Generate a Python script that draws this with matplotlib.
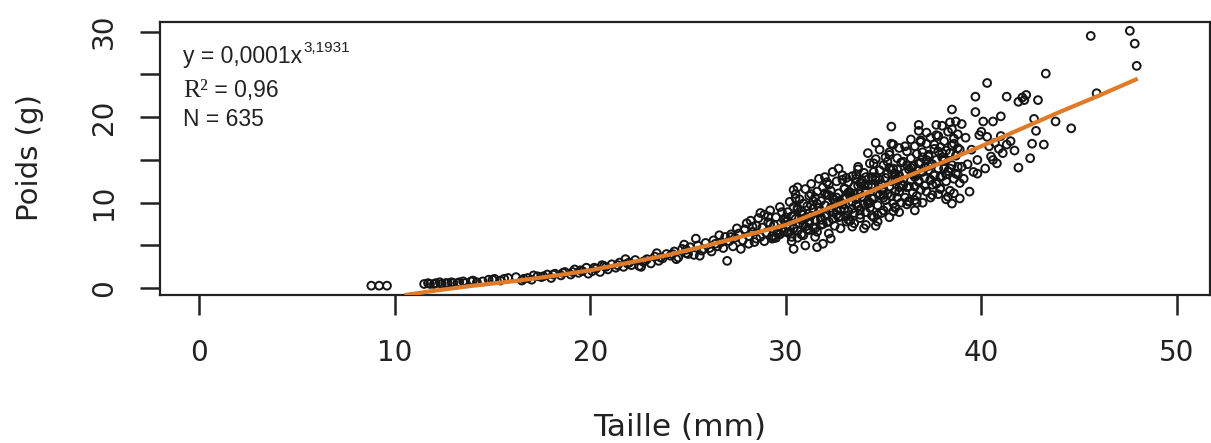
import numpy as np
import matplotlib
matplotlib.use("Agg")
import matplotlib.pyplot as plt

# ---- data (Taille en mm, Poids en g) ----
xa = [8.8, 9.2, 9.6, 11.5, 11.8, 12.1, 12.4, 12.7, 13.0, 13.3,
      13.6, 13.9, 14.2, 14.8, 15.1, 15.4, 15.8]
ya = [0.3, 0.3, 0.3, 0.5, 0.5, 0.6, 0.5, 0.6, 0.6, 0.7,
      0.6, 0.8, 0.7, 1.0, 1.1, 0.9, 1.2]

xb = [16.5, 16.8, 17.0, 17.3, 17.5, 17.8, 18.0, 18.2, 18.5, 18.7,
      19.0, 19.2, 19.4, 19.6, 19.8, 19.9]
yb = [0.9, 1.2, 1.0, 1.4, 1.3, 1.6, 1.2, 1.7, 1.5, 1.9,
      1.6, 2.2, 1.8, 2.0, 2.4, 1.7]

xc = [20.1, 20.3, 20.5, 20.7, 20.9, 21.1, 21.3, 21.5, 21.7, 21.9,
      22.1, 22.3, 22.5, 22.7, 22.9, 23.1, 23.3, 23.5, 23.7, 23.9,
      20.6, 21.8, 22.6, 23.4]
yc = [2.0, 2.3, 1.9, 2.6, 2.2, 2.8, 2.4, 3.0, 2.5, 2.9,
      2.7, 3.3, 2.6, 3.1, 3.4, 2.9, 3.7, 3.2, 3.5, 4.0,
      2.7, 3.4, 2.5, 4.1]

xd = [24.1, 24.3, 24.5, 24.7, 24.9, 25.1, 25.3, 25.5, 25.7, 25.9,
      26.1, 26.3, 26.5, 26.7, 26.9, 24.4, 25.0, 25.6, 26.2, 26.8,
      27.0, 25.4, 26.6, 24.8]
yd = [3.8, 4.3, 3.6, 4.6, 4.1, 4.8, 3.9, 5.0, 4.4, 5.3,
      4.7, 5.6, 4.9, 5.4, 6.0, 3.4, 4.0, 3.8, 4.3, 4.7,
      3.2, 5.8, 6.2, 5.1]

xe = [27.1, 27.2, 27.4, 27.5, 27.6, 27.8, 27.9, 28.0, 28.1, 28.2,
      28.3, 28.4, 28.5, 28.6, 28.7, 28.8, 28.9, 29.0, 29.1, 29.2,
      29.3, 29.4, 29.5, 29.6, 29.7, 29.8, 29.9, 27.3, 27.7, 28.1,
      28.5, 28.9, 29.3, 29.7, 27.9, 28.3, 28.7, 29.1, 29.5, 29.9]
ye = [5.5, 6.3, 5.9, 7.0, 6.4, 5.6, 6.8, 7.6, 6.1, 7.9,
      6.6, 5.4, 7.3, 8.2, 6.0, 7.1, 8.6, 6.5, 7.7, 9.1,
      5.8, 7.4, 8.3, 6.8, 9.5, 7.0, 8.0, 4.9, 4.6, 5.2,
      5.8, 5.5, 6.1, 6.3, 6.9, 7.2, 8.8, 8.4, 5.9, 6.6]

xf = [30.0, 30.1, 30.1, 30.2, 30.2, 30.3, 30.3, 30.4, 30.4, 30.5,
      30.5, 30.6, 30.6, 30.7, 30.7, 30.8, 30.8, 30.9, 30.9, 31.0,
      31.0, 31.1, 31.1, 31.2, 31.2, 31.3, 31.3, 31.4, 31.4, 31.5,
      31.5, 31.6, 31.6, 31.7, 31.7, 31.8, 31.8, 31.9, 31.9, 32.0,
      32.0, 32.1, 32.1, 32.2, 32.2, 32.3, 32.3, 32.4, 32.4, 32.5,
      32.5, 32.6, 32.6, 32.7, 32.7, 32.8, 32.8, 32.9, 32.9, 30.3,
      30.6, 30.9, 31.2, 31.5, 31.8, 32.1, 32.4, 32.7, 30.4, 31.0,
      31.6, 32.2, 32.8, 30.4, 30.6, 31.9, 32.6, 31.3, 32.0, 30.8]
yf = [7.8, 6.5, 8.9, 7.2, 10.1, 6.0, 8.4, 9.5, 7.0, 11.0,
      8.1, 6.7, 9.2, 7.6, 10.4, 8.7, 6.3, 9.9, 7.4, 11.6,
      8.2, 6.9, 9.6, 10.8, 7.9, 8.5, 12.2, 7.1, 9.3, 10.6,
      8.0, 11.3, 6.6, 9.0, 12.8, 8.3, 10.2, 7.5, 11.8, 9.7,
      13.0, 8.6, 10.9, 7.8, 12.1, 9.4, 11.4, 8.9, 13.6, 10.3,
      7.3, 12.5, 9.1, 11.1, 14.0, 10.0, 8.4, 12.7, 9.8, 5.5,
      5.9, 6.2, 6.8, 7.0, 7.4, 7.7, 8.1, 8.3, 4.6, 5.0,
      4.8, 6.4, 7.0, 11.5, 11.8, 5.2, 10.6, 9.7, 11.1, 8.0]

xg = [33.0, 33.0, 33.1, 33.1, 33.2, 33.2, 33.3, 33.3, 33.4, 33.4,
      33.5, 33.5, 33.6, 33.6, 33.7, 33.7, 33.8, 33.8, 33.9, 33.9,
      34.0, 34.0, 34.1, 34.1, 34.2, 34.2, 34.3, 34.3, 34.4, 34.4,
      34.5, 34.5, 34.6, 34.6, 34.7, 34.7, 34.8, 34.8, 34.9, 34.9,
      35.0, 35.0, 35.1, 35.1, 35.2, 35.2, 35.3, 35.3, 35.4, 35.4,
      35.5, 35.5, 35.6, 35.6, 35.7, 35.7, 35.8, 35.8, 35.9, 35.9,
      33.2, 33.5, 33.8, 34.1, 34.4, 34.7, 35.0, 35.3, 35.6, 35.9,
      33.1, 33.6, 34.2, 34.8, 35.4, 33.4, 34.0, 34.6, 35.2, 35.8,
      33.3, 33.9, 34.5, 35.1, 35.7, 34.6, 35.4, 33.7, 34.3, 35.5,
      33.0, 33.8, 34.9, 35.6, 34.1, 35.0, 33.5, 34.4, 35.3, 35.8]
yg = [9.3, 11.7, 8.4, 10.6, 12.4, 9.0, 11.2, 7.9, 13.1, 10.1,
      8.8, 11.9, 10.4, 12.8, 9.6, 14.2, 11.0, 8.6, 12.3, 10.7,
      9.8, 13.5, 11.4, 8.9, 12.0, 10.2, 14.6, 9.4, 11.8, 13.0,
      10.5, 8.3, 12.6, 15.1, 11.1, 9.7, 13.8, 10.9, 12.2, 8.8,
      11.6, 14.4, 10.3, 12.9, 9.5, 13.4, 11.9, 15.6, 10.8, 12.5,
      14.0, 9.9, 12.7, 11.3, 15.2, 10.6, 13.2, 8.9, 12.1, 14.7,
      8.0, 7.6, 8.2, 7.4, 8.5, 7.8, 9.1, 8.3, 9.4, 10.0,
      12.9, 13.3, 15.8, 16.2, 16.9, 7.2, 7.0, 17.0, 14.8, 16.4,
      10.9, 12.6, 13.6, 15.3, 13.9, 7.3, 18.9, 12.0, 10.0, 16.8,
      10.4, 9.2, 11.5, 9.5, 13.0, 10.9, 11.0, 12.1, 14.1, 11.8]

xh = [36.0, 36.0, 36.1, 36.1, 36.2, 36.2, 36.3, 36.3, 36.4, 36.4,
      36.5, 36.5, 36.6, 36.6, 36.7, 36.7, 36.8, 36.8, 36.9, 36.9,
      37.0, 37.0, 37.1, 37.1, 37.2, 37.2, 37.3, 37.3, 37.4, 37.4,
      37.5, 37.5, 37.6, 37.6, 37.7, 37.7, 37.8, 37.8, 37.9, 37.9,
      38.0, 38.0, 38.1, 38.1, 38.2, 38.2, 38.3, 38.3, 38.4, 38.4,
      38.5, 38.5, 38.6, 38.6, 38.7, 38.7, 38.8, 38.8, 38.9, 38.9,
      36.2, 36.6, 37.0, 37.4, 37.8, 38.2, 38.6, 36.4, 37.2, 38.0,
      38.8, 36.8, 37.6, 38.4, 36.6, 36.8, 37.7, 38.5, 38.7, 38.5,
      36.3, 37.1, 37.9, 38.3, 36.9, 37.5, 38.1, 38.9, 36.5, 37.3]
yh = [12.1, 14.8, 10.6, 13.5, 16.0, 11.8, 13.9, 10.1, 15.2, 12.6,
      14.3, 11.2, 16.6, 13.0, 10.8, 15.7, 12.4, 14.6, 11.5, 17.1,
      13.6, 15.9, 12.0, 14.1, 16.9, 11.3, 13.8, 15.4, 12.7, 17.6,
      14.5, 10.9, 16.3, 13.2, 15.0, 12.2, 17.8, 14.0, 16.5, 11.7,
      15.3, 13.1, 17.2, 14.9, 12.5, 16.1, 18.3, 13.7, 15.8, 11.4,
      16.7, 14.4, 12.8, 17.5, 15.5, 13.4, 18.0, 14.2, 16.2, 12.3,
      9.8, 10.3, 10.0, 10.6, 11.0, 10.4, 11.1, 17.4, 18.2, 19.0,
      13.3, 18.4, 16.8, 19.4, 9.1, 19.1, 19.1, 20.9, 19.5, 9.9,
      11.9, 12.9, 13.0, 10.7, 14.7, 12.1, 14.0, 10.5, 13.3, 15.6]

xi = [39.0, 39.1, 39.2, 39.3, 39.4, 39.5, 39.6, 39.7, 39.8, 39.9,
      40.0, 40.1, 40.2, 40.3, 40.4, 40.5, 40.6, 40.7, 40.8, 40.9,
      41.0, 41.1, 41.3, 41.5, 41.7, 41.9, 42.1, 42.3, 42.5, 42.7,
      42.9, 39.7, 40.3, 41.3, 41.9, 42.2, 42.6, 39.8, 40.6, 41.0]
yi = [19.2, 12.8, 17.6, 14.5, 11.3, 16.2, 13.6, 22.4, 15.0, 17.9,
      18.3, 19.5, 14.0, 24.0, 16.6, 15.4, 19.5, 17.0, 14.6, 16.3,
      20.1, 15.8, 22.4, 17.2, 16.1, 21.8, 22.3, 22.6, 15.2, 19.8,
      22.0, 20.6, 17.7, 16.8, 14.1, 22.0, 16.9, 13.4, 15.0, 17.8]

xj = [43.2, 43.3, 44.6, 45.6, 47.6, 47.85, 47.95, 43.8, 42.8, 45.9]
yj = [16.8, 25.1, 18.7, 29.5, 30.1, 28.6, 26.0, 19.5, 18.4, 22.8]

xk = [29.2, 29.6, 30.0, 30.4, 30.8, 31.2, 31.6, 32.0, 32.4, 32.8,
      33.2, 33.6, 34.0, 34.4, 34.8, 35.2, 35.6, 36.0, 36.4, 36.8,
      37.2, 37.6, 38.0, 38.4, 38.8, 29.4, 29.8, 30.2, 30.6, 31.0,
      31.4, 31.8, 32.2, 32.6, 33.0, 33.4, 33.8, 34.2, 34.6, 35.0,
      35.4, 35.8, 36.2, 36.6, 37.0, 37.4, 37.8, 38.2, 38.6, 39.0,
      30.1, 30.9, 31.7, 32.5, 33.3, 34.1, 34.9, 35.7, 36.5, 37.3,
      38.1, 30.5, 31.3, 32.1, 32.9, 33.7, 34.5, 35.3, 36.1, 36.9,
      37.7, 38.5, 31.5, 33.1, 34.7, 36.3, 37.9, 32.3, 35.5, 36.7]
yk = [7.5, 6.4, 8.3, 7.0, 9.0, 7.6, 9.9, 8.4, 10.5, 9.1,
      11.2, 9.8, 12.0, 10.5, 12.7, 11.0, 13.4, 12.0, 14.1, 12.6,
      15.0, 13.2, 15.8, 14.0, 16.4, 5.9, 8.9, 6.6, 9.4, 7.2,
      10.2, 8.0, 10.9, 8.6, 11.6, 9.3, 12.3, 9.9, 13.0, 10.6,
      13.8, 11.3, 14.4, 11.9, 15.3, 12.6, 16.0, 13.3, 16.9, 14.2,
      7.9, 8.6, 9.4, 10.0, 10.7, 11.3, 12.1, 12.8, 13.5, 14.3,
      15.1, 10.5, 11.0, 12.4, 13.2, 13.9, 14.6, 15.9, 16.6, 17.3,
      17.9, 18.6, 6.0, 7.8, 8.6, 10.2, 11.6, 5.8, 9.0, 10.0]

xl = [11.7, 12.0, 12.3, 12.6, 12.9, 13.2, 13.5, 14.0, 14.5, 15.0,
      15.6, 16.2, 16.6, 17.1, 17.6, 18.1, 18.6, 19.1, 19.5, 20.2,
      20.8, 21.4, 22.0, 22.8, 23.6, 24.2, 24.9, 25.8, 26.4, 27.2]
yl = [0.6, 0.5, 0.7, 0.6, 0.7, 0.6, 0.8, 0.9, 0.8, 1.0,
      1.1, 1.3, 1.1, 1.5, 1.4, 1.6, 1.8, 1.9, 2.1, 2.4,
      2.5, 2.7, 3.0, 3.2, 3.6, 4.0, 4.5, 4.6, 5.2, 6.0]

taille = np.array(xa + xb + xc + xd + xe + xf + xg + xh + xi + xj + xk + xl)
poids = np.array(ya + yb + yc + yd + ye + yf + yg + yh + yi + yj + yk + yl)

# fitted curve as drawn in the figure
fit_taille = [10.5, 12, 14, 16, 18, 20, 22, 24, 26, 28,
              30, 32, 34, 36, 38, 40, 42, 44, 46, 48]
fit_poids = [-0.8, -0.3, 0.3, 0.8, 1.4, 2.1, 3.0, 3.9, 5.0, 6.2,
             7.4, 9.2, 11.0, 12.9, 14.7, 16.6, 18.6, 20.6, 22.5, 24.5]

xticks = [0, 10, 20, 30, 40, 50]
yticks = [0, 5, 10, 15, 20, 25, 30]
ytick_labels = ["0", "", "10", "", "20", "", "30"]

ink = "#222222"
W, H = 1211, 443

fig = plt.figure(figsize=(W / 100, H / 100), dpi=100)
ax = fig.add_axes([160 / W, 148 / H, 1050 / W, 273 / H])

ax.scatter(taille, poids, s=5.6 ** 2, facecolors="none", edgecolors="#151515",
           linewidths=1.4, zorder=2)
ax.plot(fit_taille, fit_poids, color="#e07b2a", linewidth=3.0, zorder=3,
        solid_capstyle="butt")

ax.set_xlim(-2.01, 51.7)
ax.set_ylim(-0.79, 31.13)

ax.set_xticks(xticks)
ax.set_xticklabels([str(t) for t in xticks])
ax.set_yticks(yticks)
ax.set_yticklabels(ytick_labels)

ax.tick_params(axis="both", length=14.4, width=1.8, color=ink, labelcolor=ink,
               labelsize=20, pad=17)
ax.tick_params(axis="y", labelrotation=90, pad=16)
for lab in ax.get_yticklabels():
    lab.set_verticalalignment("center")
for lab in ax.get_xticklabels() + ax.get_yticklabels():
    lab.set_fontfamily("DejaVu Sans")

for sp in ax.spines.values():
    sp.set_color(ink)
    sp.set_linewidth(1.6)

# annotation block
t1 = fig.text(183 / W, 1 - 57 / H, "y = 0,0001x", family="Liberation Sans",
              fontsize=16.5, color=ink, ha="left", va="center")
ax.annotate("3,1931", xy=(1, 1), xycoords=t1, xytext=(1, 3),
            textcoords="offset points", family="Liberation Sans",
            fontsize=11, color=ink, ha="left", va="top")

t2 = fig.text(183 / W, 1 - 91 / H, "R\u00b2", family="Liberation Serif",
              fontsize=18.5, color=ink, ha="left", va="center")
ax.annotate(" = 0,96", xy=(1, 0.5), xycoords=t2, family="Liberation Sans",
            fontsize=16.5, color=ink, ha="left", va="center")

fig.text(183 / W, 1 - 119 / H, "N = 635", family="Liberation Sans",
         fontsize=16.5, color=ink, ha="left", va="center")

# axis labels
fig.text(680 / W, 1 - 427 / H, "Taille (mm)", family="DejaVu Sans",
         fontsize=22.5, color=ink, ha="center", va="center")
fig.text(30 / W, 1 - 158 / H, "Poids (g)", family="DejaVu Sans",
         fontsize=21, color=ink, ha="center", va="center", rotation=90)

fig.savefig("out.png", dpi=100)
